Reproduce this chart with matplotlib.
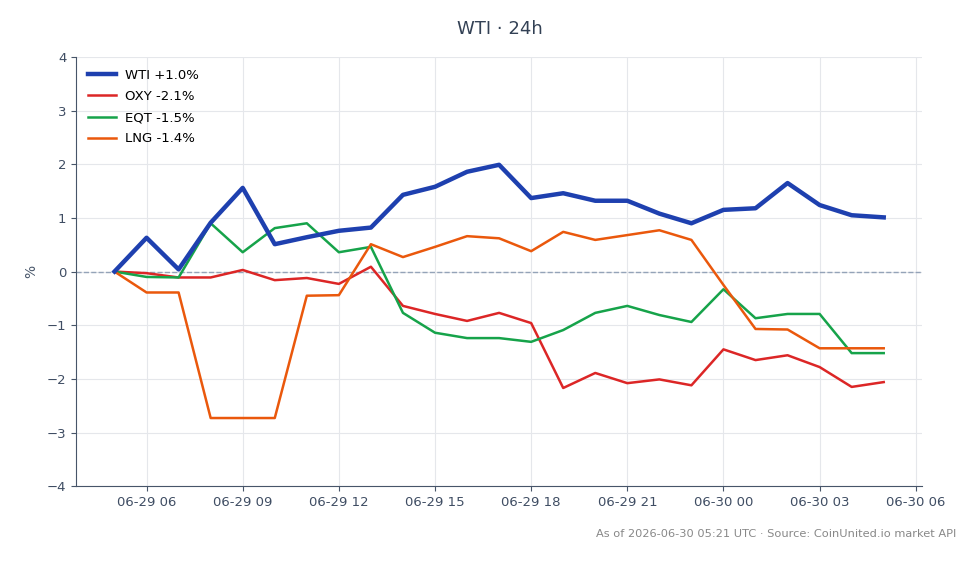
import matplotlib.pyplot as plt
import matplotlib.dates as mdates
import pandas as pd

times = pd.date_range("2026-06-29 05:00", periods=25, freq="h")

wti = [0.0, 0.63, 0.04, 0.91, 1.56, 0.51, 0.64, 0.76, 0.82, 1.43, 1.58, 1.86, 1.99,
       1.37, 1.46, 1.32, 1.32, 1.08, 0.90, 1.15, 1.18, 1.65, 1.24, 1.05, 1.01]
oxy = [0.0, -0.03, -0.11, -0.11, 0.03, -0.16, -0.12, -0.23, 0.09, -0.64, -0.79, -0.92, -0.77,
       -0.96, -2.17, -1.89, -2.08, -2.01, -2.12, -1.45, -1.65, -1.56, -1.78, -2.15, -2.06]
eqt = [0.0, -0.10, -0.11, 0.90, 0.36, 0.81, 0.90, 0.36, 0.46, -0.77, -1.14, -1.24, -1.24,
       -1.31, -1.09, -0.77, -0.64, -0.81, -0.94, -0.33, -0.87, -0.79, -0.79, -1.52, -1.52]
lng = [0.0, -0.39, -0.39, -2.73, -2.73, -2.73, -0.45, -0.44, 0.51, 0.27, 0.46, 0.66, 0.62,
       0.38, 0.74, 0.59, 0.68, 0.77, 0.59, -0.25, -1.07, -1.08, -1.43, -1.43, -1.43]

labels = ["WTI +1.0%", "OXY -2.1%", "EQT -1.5%", "LNG -1.4%"]

fig = plt.figure(figsize=(9.8, 5.64), dpi=100)
ax = fig.add_axes([0.0776, 0.138, 0.8634, 0.761])

ax.plot(times, wti, color="#1e40af", lw=3.2, label=labels[0], zorder=5)
ax.plot(times, oxy, color="#dc2626", lw=1.8, label=labels[1])
ax.plot(times, eqt, color="#16a34a", lw=1.8, label=labels[2])
ax.plot(times, lng, color="#ea580c", lw=1.8, label=labels[3])
ax.axhline(0, color="#94a3b8", lw=1, ls="--", zorder=1)

ax.set_ylim(-4, 4)
ax.set_ylabel("%", color="#475569", fontsize=10, labelpad=6)
ax.xaxis.set_major_locator(mdates.HourLocator(byhour=range(0, 24, 3)))
ax.xaxis.set_major_formatter(mdates.DateFormatter("%m-%d %H"))

ax.grid(True, color="#e5e7eb", lw=0.8)
ax.set_axisbelow(True)
for s in ["top", "right"]:
    ax.spines[s].set_visible(False)
for s in ["left", "bottom"]:
    ax.spines[s].set_color("#475569")
ax.tick_params(colors="#475569", labelsize=9.5, labelcolor="#3f4d63")

ax.legend(loc="upper left", frameon=False, fontsize=9.5, handlelength=2.1,
          labelspacing=0.62, handletextpad=0.7)

fig.suptitle("WTI · 24h", x=0.51, y=0.965, fontsize=13, color="#334155")
fig.text(0.976, 0.047, "As of 2026-06-30 05:21 UTC · Source: CoinUnited.io market API",
         ha="right", fontsize=8.2, color="#888888")

fig.savefig("out.png", dpi=100)
